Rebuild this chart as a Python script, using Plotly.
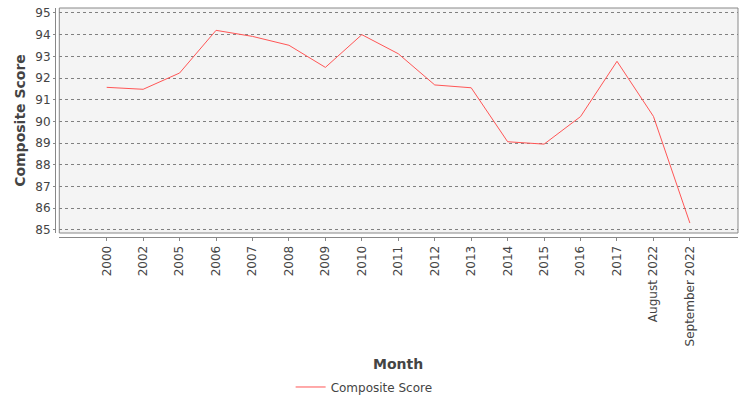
import plotly.graph_objects as go

months = ['2000', '2002', '2005', '2006', '2007', '2008', '2009', '2010', '2011',
          '2012', '2013', '2014', '2015', '2016', '2017', 'August 2022', 'September 2022']
composite_score = [91.57, 91.48, 92.23, 94.2, 93.92, 93.51, 92.49, 94.0, 93.12,
                   91.68, 91.55, 89.06, 88.95, 90.22, 92.77, 90.23, 85.31]

font = 'DejaVu Sans'

fig = go.Figure()
fig.add_trace(go.Scatter(
    x=months,
    y=composite_score,
    mode='lines',
    line=dict(color='#ff5555', width=1),
    name='Composite Score',
    showlegend=True,
))

fig.update_layout(
    width=750,
    height=400,
    margin=dict(l=55, r=12, t=8, b=163, autoexpand=False),
    paper_bgcolor='white',
    plot_bgcolor='#f4f4f4',
    font=dict(family=font, size=12, color='#444444'),
    showlegend=True,
    legend=dict(
        orientation='h',
        x=0.345, xanchor='left',
        y=-0.655, yanchor='middle',
        font=dict(size=12, color='#444444'),
        itemwidth=30,
    ),
    xaxis=dict(
        type='category',
        range=[-1.3, 17.32],
        domain=[4.3 / 683, 1],
        tickangle=-90,
        tickfont=dict(size=12, color='#444444'),
        ticks='outside', ticklen=3, tickcolor='#888888',
        showline=True, linecolor='#888888', linewidth=1,
        showgrid=False, zeroline=False,
        anchor='free', position=0,
        automargin=False,
    ),
    yaxis=dict(
        range=[84.85, 95.23],
        domain=[4 / 229, 1],
        tickvals=[85, 86, 87, 88, 89, 90, 91, 92, 93, 94, 95],
        tickfont=dict(size=12, color='#444444'),
        ticks='outside', ticklen=2, tickcolor='#888888',
        showline=True, linecolor='#888888', linewidth=1,
        showgrid=True, gridcolor='#808080', griddash='dot', gridwidth=1,
        zeroline=False,
        anchor='free', position=0,
        automargin=False,
        title=dict(text='<b>Composite Score</b>', font=dict(size=14, color='#444444'), standoff=5),
    ),
)

# plot frame
fig.add_shape(type='rect', xref='x domain', yref='y domain', x0=0, x1=1, y0=0, y1=1,
              line=dict(color='#888888', width=1), fillcolor='rgba(0,0,0,0)')

fig.add_annotation(text='<b>Month</b>', xref='paper', yref='paper',
                   x=(398 - 55) / 683, y=-(364 - 237) / 229,
                   xanchor='center', yanchor='middle', showarrow=False,
                   font=dict(size=14, color='#444444'))

# page body has a default 8px margin; remove it so the figure sits at the window corner
fig.write_html('out.html', config={'displayModeBar': False},
               post_script="document.body.style.margin='0';")
